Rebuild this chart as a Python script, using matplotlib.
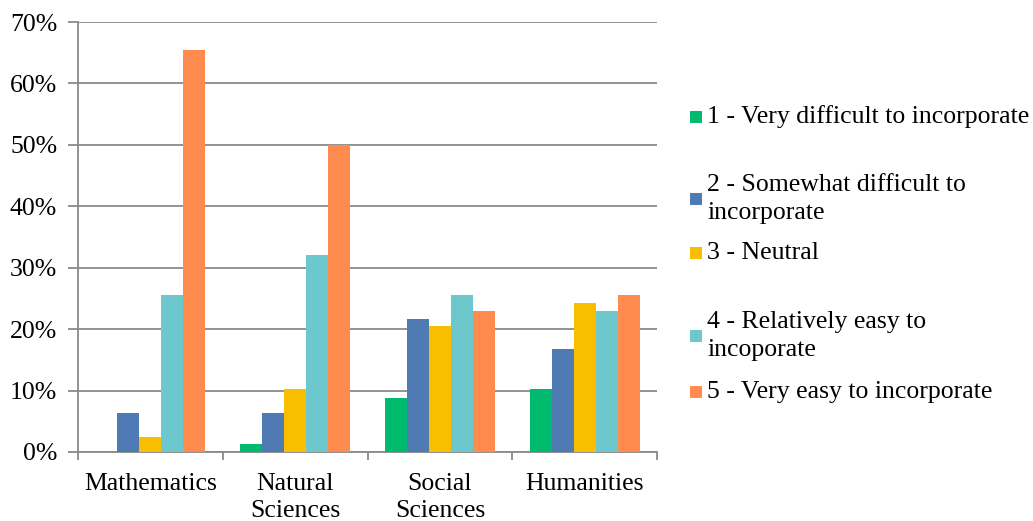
import matplotlib
matplotlib.use("Agg")
import matplotlib.pyplot as plt
from matplotlib.patches import Rectangle
import numpy as np

categories = ["Mathematics", "Natural\nSciences", "Social\nSciences", "Humanities"]
series_labels = [
    "1 - Very difficult to incorporate",
    "2 - Somewhat difficult to\nincorporate",
    "3 - Neutral",
    "4 - Relatively easy to\nincoporate",
    "5 - Very easy to incorporate",
]
s1 = [0.0, 1.3, 8.8, 10.2]
s2 = [6.4, 6.4, 21.6, 16.7]
s3 = [2.5, 10.2, 20.5, 24.3]
s4 = [25.6, 32.0, 25.6, 23.0]
s5 = [65.4, 50.0, 23.0, 25.6]
series = [s1, s2, s3, s4, s5]
colors = ["#00BB6E", "#4F7AB4", "#F8BE00", "#6CC8CC", "#FF8B4F"]
yticks = [0, 10, 20, 30, 40, 50, 60, 70]

plt.rcParams['font.family'] = ['Liberation Serif', 'DejaVu Serif']
FS = 18.5

fig = plt.figure(figsize=(10.33, 5.21), dpi=100)
ax = fig.add_axes([78/1033, 1-452/521, (657-78)/1033, (452-22)/521])

x = np.arange(len(categories))
w = 0.152
grid_c = "#8A8A8A"
bars = []
for i, (vals, c) in enumerate(zip(series, colors)):
    b = ax.bar(x + (i - 2) * w, vals, width=w, color=c, edgecolor='none', zorder=3)
    bars.append(b)

ax.set_xlim(-0.5, len(categories) - 0.5)
ax.set_ylim(0, 70)
ax.set_yticks(yticks)
ax.set_yticklabels([f"{t}%" for t in yticks], fontsize=FS)
ax.yaxis.grid(True, color=grid_c, linewidth=1.3, zorder=0)
ax.set_axisbelow(True)

ax.set_xticks(x)
ax.set_xticklabels(categories, fontsize=FS, linespacing=1.32, va='top')
ax.set_xticks(np.arange(-0.5, len(categories)), minor=True)
ax.tick_params(axis='x', which='major', length=0, pad=15)
ax.tick_params(axis='x', which='minor', length=6, width=1.3, color=grid_c, direction='out')
ax.tick_params(axis='y', length=7, width=1.3, color=grid_c, pad=8, direction='out')

for s in ['top', 'right']:
    ax.spines[s].set_visible(False)
for s in ['left', 'bottom']:
    ax.spines[s].set_color(grid_c)
    ax.spines[s].set_linewidth(1.3)

# legend (manual placement to reproduce spacing)
leg_y = [117, 199, 253, 336, 392]
for b, lab, yc in zip(bars, series_labels, leg_y):
    fy = 1 - yc / 521
    fig.patches.append(Rectangle((690/1033, fy - 6/521), 12/1033, 12/521,
                                 transform=fig.transFigure, facecolor=b.patches[0].get_facecolor(),
                                 edgecolor='none'))
    fig.text(707/1033, fy, lab, fontsize=FS, va='center', ha='left', linespacing=1.38)

fig.savefig("out.png", dpi=100)
